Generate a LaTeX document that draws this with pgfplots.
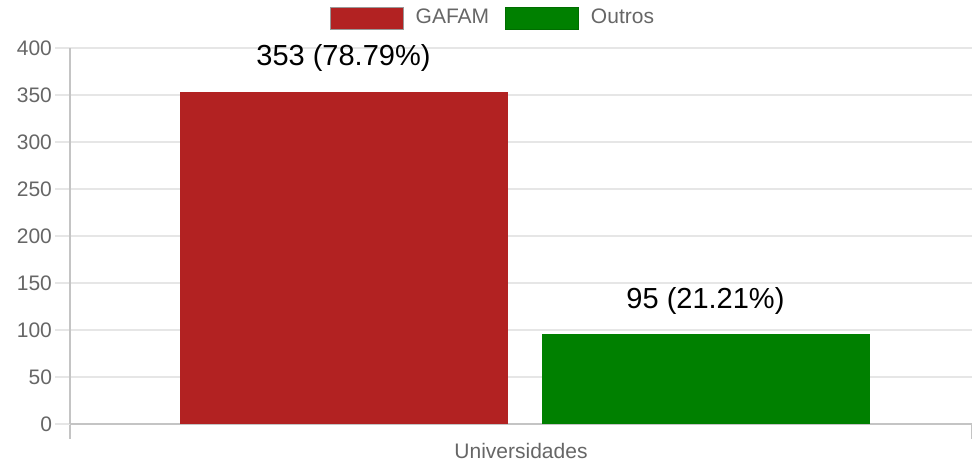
\documentclass[border=0pt]{standalone}
\usepackage{pgfplots}
\pgfplotsset{compat=1.18}
\usepackage{fontspec}
\setmainfont{Liberation Sans}
\definecolor{gafam}{HTML}{B22222}
\definecolor{outros}{HTML}{008000}
\definecolor{gridc}{HTML}{E6E6E6}
\definecolor{axisc}{HTML}{C4C4C4}
\definecolor{labc}{HTML}{666666}
\begin{document}
\begin{tikzpicture}
\useasboundingbox (-35pt,-20pt) rectangle (451pt,212pt);
\begin{axis}[
  scale only axis, width=451pt, height=188pt,
  xmin=0, xmax=1, ymin=0, ymax=400,
  ytick={0,50,...,400},
  xtick={0,1}, xticklabels={},
  extra x ticks={0.5}, extra x tick labels={Universidades},
  extra x tick style={major tick length=0pt, xticklabel style={yshift=-6pt}},
  axis x line*=bottom, axis y line*=left,
  ymajorgrids, grid style={gridc, line width=0.6pt},
  tick align=outside, major tick length=7.5pt,
  y tick style={gridc, line width=0.6pt},
  x tick style={axisc, line width=0.6pt},
  axis line style={axisc, line width=0.6pt},
  /pgf/number format/assume math mode=true,
  tick label style={font=\fontsize{10.5}{12}\selectfont, text=labc},
  yticklabel style={anchor=east, xshift=2pt},
  ybar, bar width=0.3625,
  nodes near coords, point meta=explicit symbolic,
  every node near coord/.append style={font=\fontsize{14.5}{16}\selectfont, text=black, anchor=center, yshift=17pt},
  legend style={at={(0.47,1)}, anchor=center, yshift=15pt, draw=none, fill=none,
    legend columns=2, font=\fontsize{10.5}{12}\selectfont, text=labc,
    /tikz/every even column/.append style={column sep=6pt}},
]
\addplot[fill=gafam, draw=gafam, bar shift=0pt,
  legend image code/.code={\draw[fill=gafam, draw=gray!80] (0pt,-5.5pt) rectangle (36.5pt,5.5pt); \path (40.5pt,0pt);}]
  coordinates {(0.3032,353) [353 (78.79\%)]};
\addlegendentry{GAFAM}
\addplot[fill=outros, draw=outros, bar shift=0pt,
  legend image code/.code={\draw[fill=outros, draw=outros!85!black] (0pt,-5.5pt) rectangle (36.5pt,5.5pt); \path (40.5pt,0pt);}]
  coordinates {(0.7045,95) [95 (21.21\%)]};
\addlegendentry{Outros}
\end{axis}
\end{tikzpicture}
\end{document}
